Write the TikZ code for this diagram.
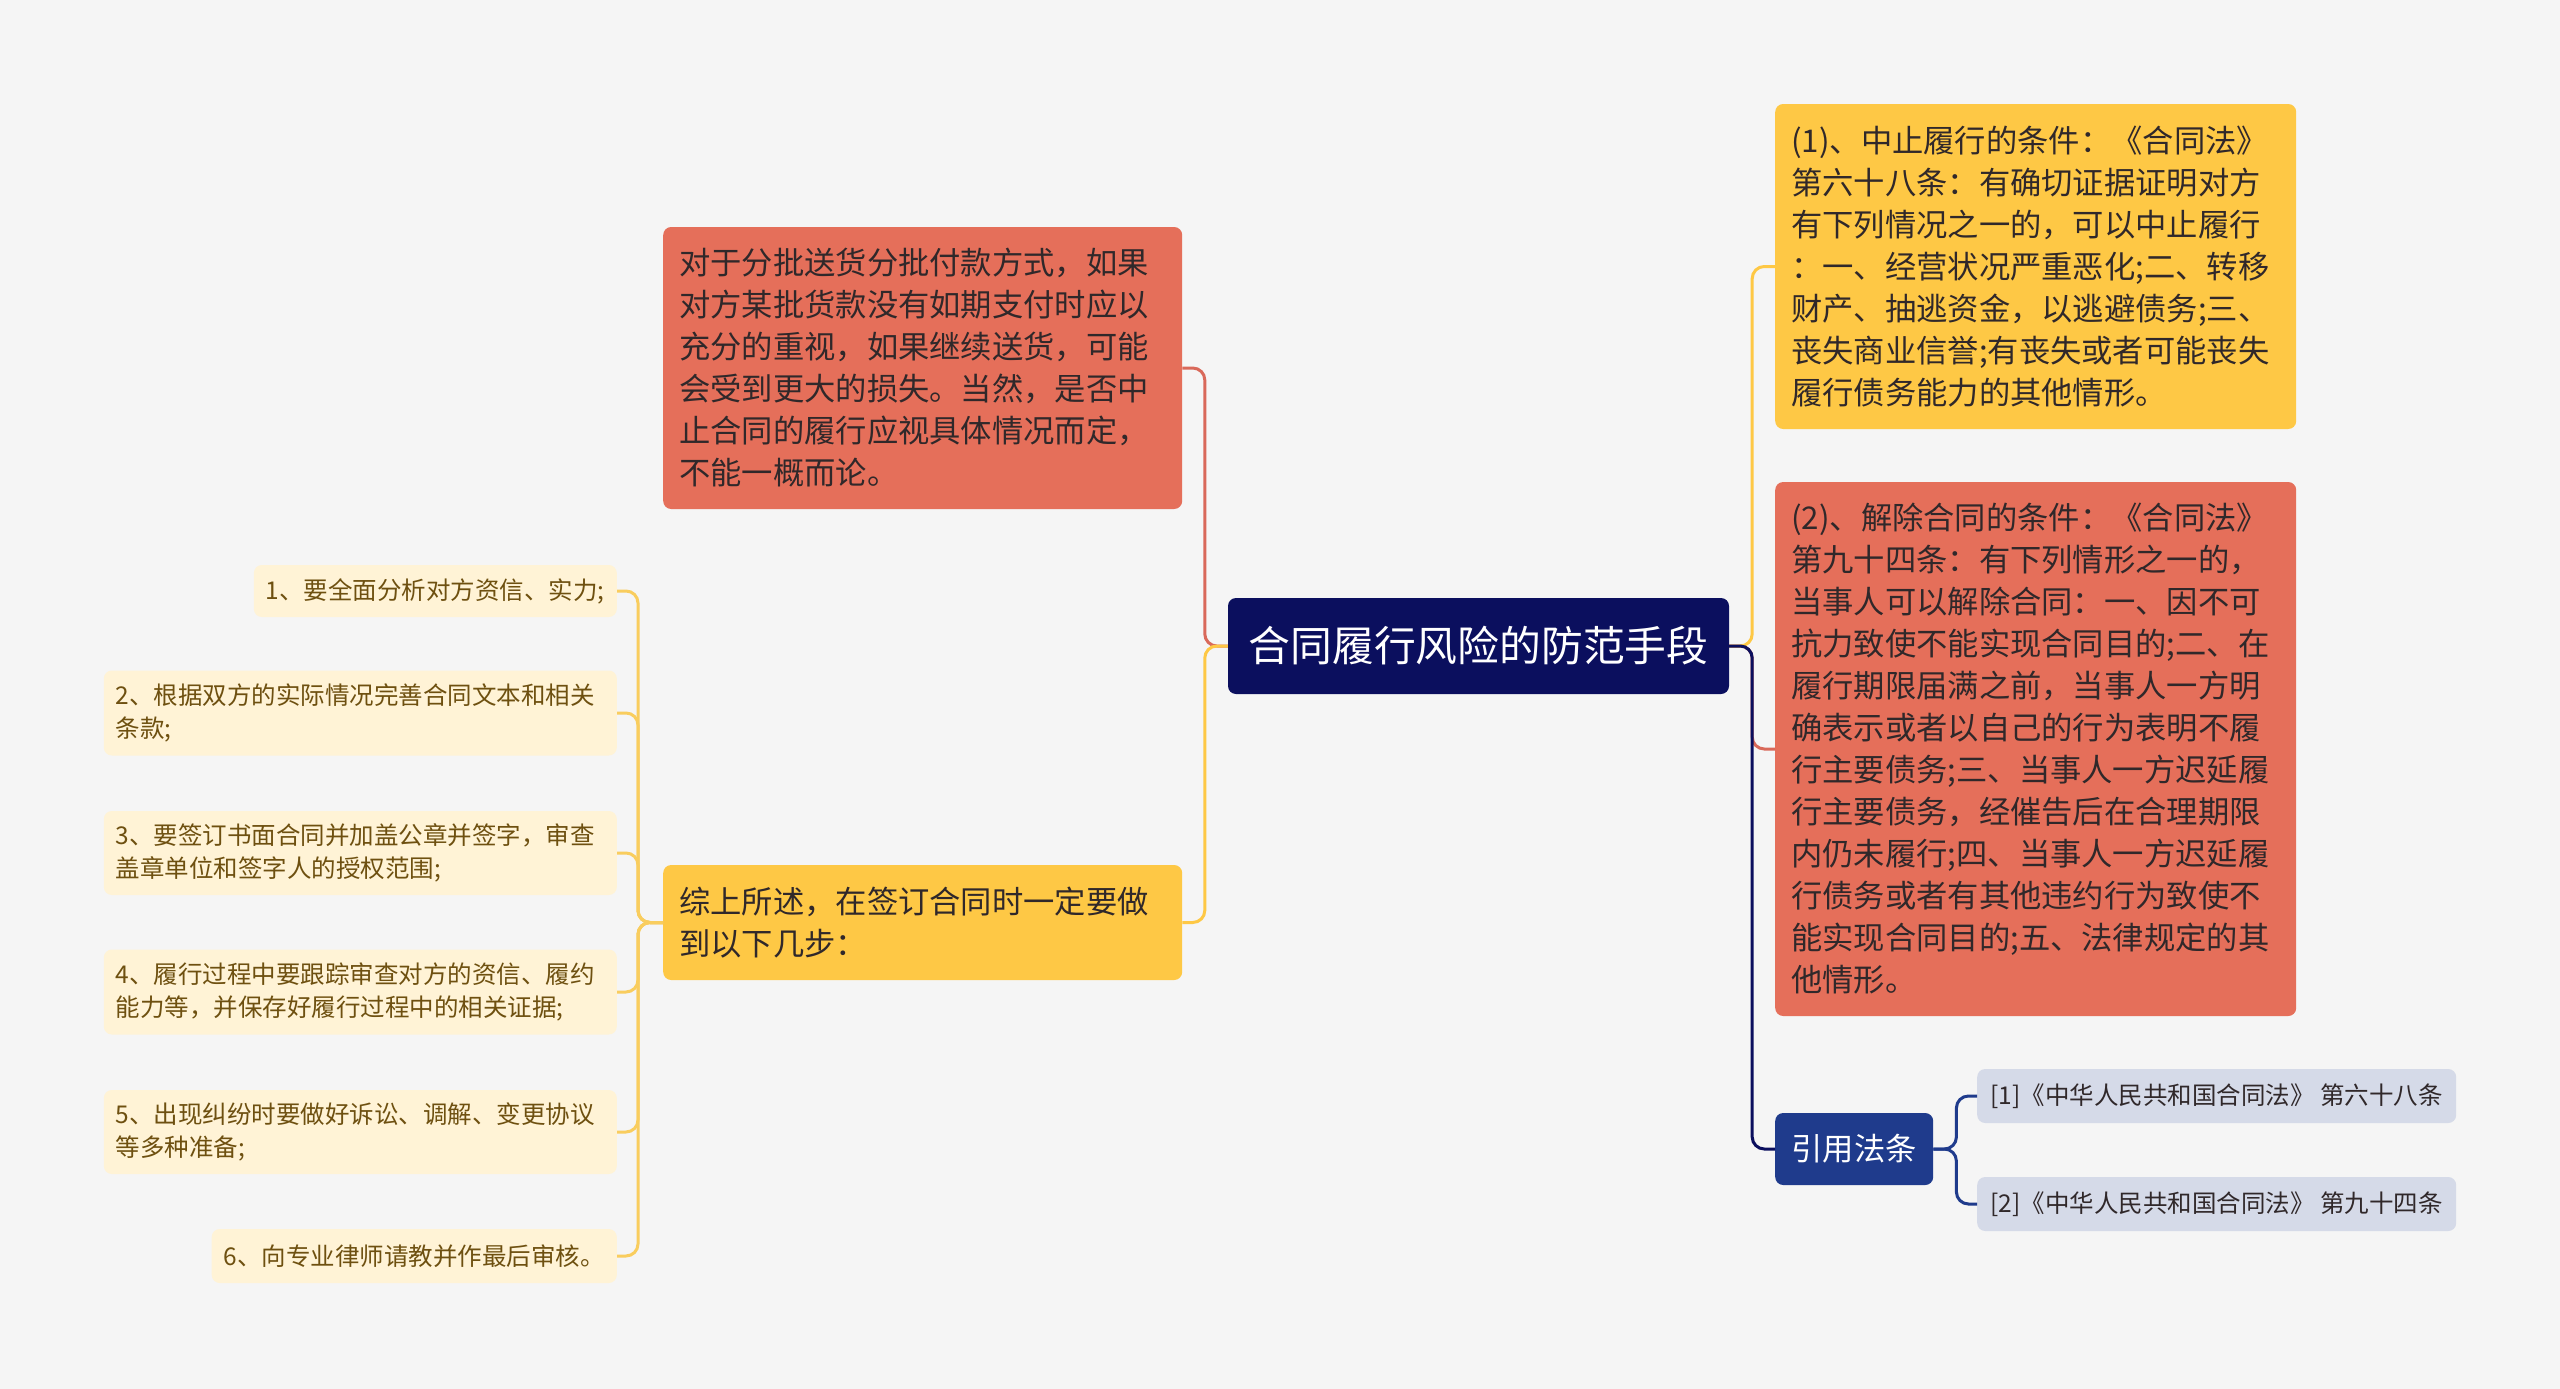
\documentclass[tikz,border=0pt]{standalone}
\usepackage{fontspec}
\setmainfont{Noto Sans CJK SC}
\definecolor{bg}{HTML}{F5F5F5}
\definecolor{navyc}{HTML}{0B0F5E}
\definecolor{bluec}{HTML}{1F3B8C}
\definecolor{redc}{HTML}{E56F5A}
\definecolor{redl}{HTML}{D9695A}
\definecolor{yelc}{HTML}{FEC845}
\definecolor{yell}{HTML}{F9CD5E}
\definecolor{leafc}{HTML}{FFF3D6}
\definecolor{citec}{HTML}{D5DAE8}
\definecolor{txt}{HTML}{30282A}
\definecolor{leaftxt}{HTML}{6E5010}
\newcommand{\bigtxt}{\fontsize{31.3}{42}\selectfont}
\newcommand{\smtxt}{\fontsize{24.5}{32.6}\selectfont}
\begin{document}
\begin{tikzpicture}[x=1pt,y=-1pt,
  bx/.style={rounded corners=8pt, inner xsep=16pt, inner ysep=0pt, align=left, anchor=west, text=txt, font=\bigtxt},
  leaf/.style={rounded corners=8pt, fill=leafc, inner xsep=12pt, inner ysep=0pt, align=left, anchor=east, text=leaftxt, font=\smtxt},
  cit/.style={rounded corners=8pt, fill=citec, inner xsep=12pt, inner ysep=0pt, anchor=west, text=txt, font=\smtxt, minimum width=479pt, minimum height=54pt},
  lk/.style={line width=3pt, rounded corners=12pt}]
\fill[bg] (0,0) rectangle (2560,1389);
\useasboundingbox (0,0) rectangle (2560,1389);

% nodes
\node[fill=navyc, text=white, rounded corners=8pt, minimum width=501pt, minimum height=96pt, inner sep=0pt, font=\fontsize{41.8}{50}\selectfont] (root) at (1478.5,646) {合同履行风险的防范手段};

\node[bx, fill=redc, text width=487pt, minimum height=282pt] (r1) at (663,368) {对于分批送货分批付款方式，如果\\对方某批货款没有如期支付时应以\\充分的重视，如果继续送货，可能\\会受到更大的损失。当然，是否中\\止合同的履行应视具体情况而定，\\不能一概而论。};

\node[bx, fill=yelc, text width=487pt, minimum height=115pt] (y1) at (663,922.5) {综上所述，在签订合同时一定要做\\到以下几步：};

\node[leaf, minimum height=52pt] (L1) at (617,591) {1、要全面分析对方资信、实力;};
\node[leaf, text width=489pt, minimum height=85pt] (L2) at (617,713) {2、根据双方的实际情况完善合同文本和相关\\条款;};
\node[leaf, text width=489pt, minimum height=84pt] (L3) at (617,853) {3、要签订书面合同并加盖公章并签字，审查\\盖章单位和签字人的授权范围;};
\node[leaf, text width=489pt, minimum height=85pt] (L4) at (617,992) {4、履行过程中要跟踪审查对方的资信、履约\\能力等，并保存好履行过程中的相关证据;};
\node[leaf, text width=489pt, minimum height=84pt] (L5) at (617,1132) {5、出现纠纷时要做好诉讼、调解、变更协议\\等多种准备;};
\node[leaf, minimum height=54pt] (L6) at (617,1256) {6、向专业律师请教并作最后审核。};

\node[bx, fill=yelc, text width=489pt, minimum height=325pt] (ry) at (1775,266.5) {(1)、中止履行的条件：《合同法》\\第六十八条：有确切证据证明对方\\有下列情况之一的，可以中止履行\\：一、经营状况严重恶化;二、转移\\财产、抽逃资金，以逃避债务;三、\\丧失商业信誉;有丧失或者可能丧失\\履行债务能力的其他情形。};

\node[bx, fill=redc, text width=489pt, minimum height=534pt] (rr) at (1775,749) {(2)、解除合同的条件：《合同法》\\第九十四条：有下列情形之一的，\\当事人可以解除合同：一、因不可\\抗力致使不能实现合同目的;二、在\\履行期限届满之前，当事人一方明\\确表示或者以自己的行为表明不履\\行主要债务;三、当事人一方迟延履\\行主要债务，经催告后在合理期限\\内仍未履行;四、当事人一方迟延履\\行债务或者有其他违约行为致使不\\能实现合同目的;五、法律规定的其\\他情形。};

\node[fill=bluec, text=white, rounded corners=8pt, anchor=west, minimum width=158pt, minimum height=72pt, inner sep=0pt, font=\bigtxt] (cite) at (1775,1149) {引用法条};

\node[cit] (c1) at (1977,1096) {[1]《中华人民共和国合同法》 第六十八条};
\node[cit] (c2) at (1977,1204) {[2]《中华人民共和国合同法》 第九十四条};

% connectors
\draw[lk, redl] (root.west) -- ++(-23,0) |- (r1.east);
\draw[lk, yelc] (root.west) -- ++(-23,0) |- (y1.east);
\foreach \n in {L1,L2,L3,L4,L5,L6}
  \draw[lk, yell] (y1.west) -- ++(-25,0) |- (\n.east);
\draw[lk, redl] (root.east) -- ++(23,0) |- (rr.west);
\draw[lk, yelc] (root.east) -- ++(23,0) |- (ry.west);
\draw[lk, navyc] (root.east) -- ++(23,0) |- (cite.west);
\draw[lk, bluec] (cite.east) -- ++(23,0) |- (c1.west);
\draw[lk, bluec] (cite.east) -- ++(23,0) |- (c2.west);
\end{tikzpicture}
\end{document}
